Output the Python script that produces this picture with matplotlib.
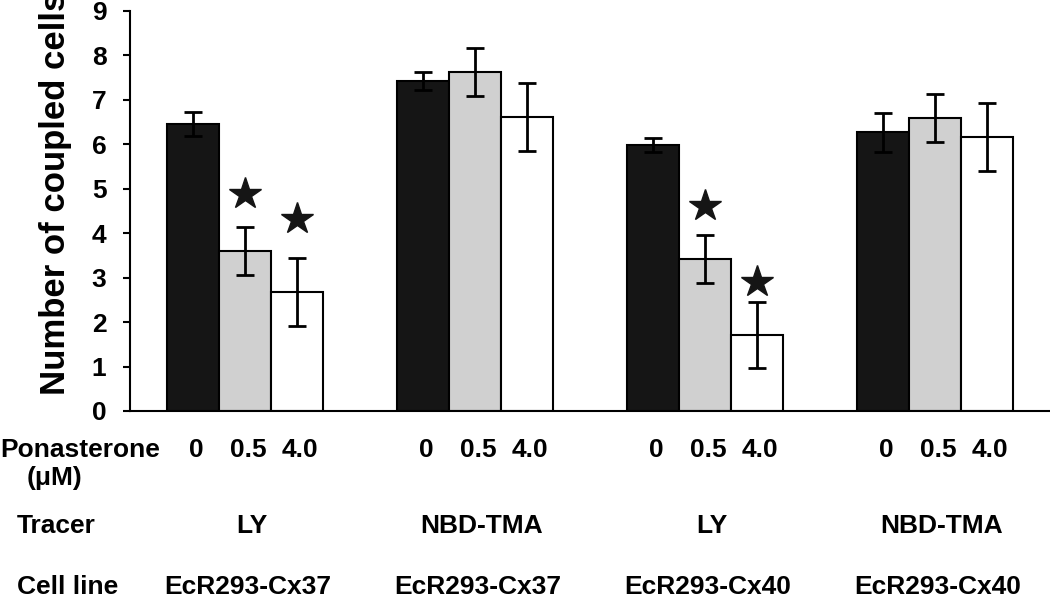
import matplotlib
matplotlib.use("Agg")
import matplotlib.pyplot as plt
import matplotlib.transforms as mtransforms
import numpy as np

plt.rcParams["font.family"] = ["Liberation Sans", "DejaVu Sans"]
plt.rcParams["font.weight"] = "bold"

doses = ["0", "0.5", "4.0"]
tracers = ["LY", "NBD-TMA", "LY", "NBD-TMA"]
cell_lines = ["EcR293-Cx37", "EcR293-Cx37", "EcR293-Cx40", "EcR293-Cx40"]

# mean number of coupled cells, rows = dose (0, 0.5, 4.0), cols = group
means = [
    [6.45, 7.42, 5.99, 6.27],
    [3.60, 7.63, 3.42, 6.60],
    [2.68, 6.62, 1.71, 6.16],
]
errs = [
    [0.27, 0.20, 0.16, 0.44],
    [0.55, 0.54, 0.54, 0.54],
    [0.77, 0.77, 0.74, 0.76],
]
# significance stars: (group, dose index, y position)
stars = [(0, 1, 4.89), (0, 2, 4.33), (2, 1, 4.62), (2, 2, 2.91)]

colors = ["#151515", "#d0d0d0", "white"]

fig = plt.figure(figsize=(10.5, 5.97), dpi=100)
ax = fig.add_axes([130 / 1050, 1 - 411 / 597, 1 - 130 / 1050, (411 - 11) / 597])

x = np.arange(len(tracers))
w = 0.226
for i in range(len(doses)):
    xi = x + (i - 1) * w
    ax.bar(xi, means[i], w, color=colors[i], edgecolor="black", linewidth=1.5, zorder=2)
    ax.errorbar(xi, means[i], yerr=errs[i], fmt="none", ecolor="black",
                elinewidth=2, capsize=6.2, capthick=2, zorder=3)

for g, d, y in stars:
    ax.plot(x[g] + (d - 1) * w, y, marker="*", color="#151515", markersize=24,
            linestyle="none", zorder=4)

ax.set_xlim(-0.5, 3.5)
ax.set_ylim(0, 9)
ax.set_yticks(range(10))
ax.set_xticks([])
ax.spines["top"].set_visible(False)
ax.spines["right"].set_visible(False)
ax.spines["left"].set_linewidth(1.5)
ax.spines["bottom"].set_linewidth(1.5)
ax.tick_params(axis="y", length=5, width=1.5, labelsize=19, pad=12)
for t in ax.get_yticklabels():
    t.set_fontweight("bold")

fig.text(0.053, 0.677, "Number of coupled cells", rotation=90, ha="center",
         va="center", fontsize=25, fontweight="bold")

trans = mtransforms.blended_transform_factory(ax.transData, fig.transFigure)
fig.text(0.0, 1 - 457 / 597, "Ponasterone", fontsize=19, fontweight="bold", va="baseline")
fig.text(54 / 1050, 1 - 485 / 597, "(\u03bcM)", fontsize=19, fontweight="bold",
         va="baseline", ha="center")
fig.text(17 / 1050, 1 - 533 / 597, "Tracer", fontsize=19, fontweight="bold", va="baseline")
fig.text(17 / 1050, 1 - 594 / 597, "Cell line", fontsize=19, fontweight="bold", va="baseline")

for g in range(len(tracers)):
    for i, d in enumerate(doses):
        ax.text(x[g] + (i - 1) * w + 0.015, 1 - 457 / 597, d, transform=trans,
                ha="center", va="baseline", fontsize=19, fontweight="bold")
    ax.text(x[g] + 0.03, 1 - 533 / 597, tracers[g], transform=trans, ha="center",
            va="baseline", fontsize=19, fontweight="bold")
    ax.text(x[g] + 0.01, 1 - 594 / 597, cell_lines[g], transform=trans, ha="center",
            va="baseline", fontsize=19, fontweight="bold")

fig.savefig("out.png", dpi=100)
